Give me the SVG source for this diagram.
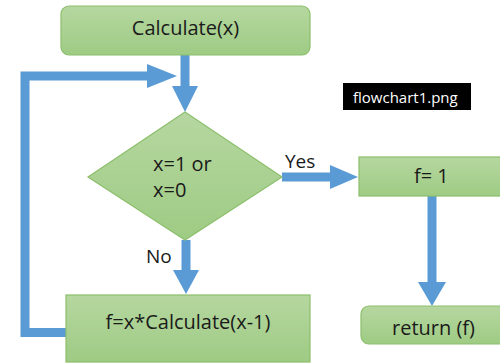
<svg xmlns="http://www.w3.org/2000/svg" width="500" height="364" viewBox="0 0 500 364">
<defs>
<linearGradient id="g" x1="0" y1="0" x2="0" y2="1">
<stop offset="0" stop-color="#b6d7a0"/>
<stop offset="1" stop-color="#9ecb84"/>
</linearGradient>
<style>
.box{fill:url(#g);stroke:#8cbf6c;stroke-width:1.2}
.t{font-family:"Open Sans","Noto Sans",sans-serif;font-size:20px;fill:#1a1a1a}
.lbl{font-family:"Open Sans","Noto Sans",sans-serif;font-size:19px;fill:#1a1a1a}
.arr{fill:#5b9bd5}
.shaft{fill:none;stroke:#5b9bd5;stroke-width:9}
</style>
</defs>
<rect width="500" height="364" fill="#ffffff"/>
<g id="connectors">
<line class="shaft" x1="185" y1="55" x2="185" y2="87"/>
<polygon class="arr" points="172,86 198,86 185,112"/>
<polyline class="shaft" points="66,332.5 25,332.5 25,76 148,76"/>
<polygon class="arr" points="147,64 147,88 177,76"/>
<line class="shaft" x1="282" y1="177" x2="331" y2="177"/>
<polygon class="arr" points="330,165 330,189 358,177"/>
<text class="lbl" x="285" y="168">Yes</text>
<line class="shaft" x1="186" y1="240" x2="186" y2="271"/>
<polygon class="arr" points="173,270 199,270 186,294"/>
<text class="lbl" x="146" y="263">No</text>
<line class="shaft" x1="432" y1="196" x2="432" y2="283"/>
<polygon class="arr" points="418,282 446,282 432,306"/>
</g>
<g id="start">
<rect class="box" x="61" y="6" width="249" height="49" rx="8"/>
<text class="t" x="185.5" y="35" text-anchor="middle">Calculate(x)</text>
</g>
<g id="decision">
<polygon class="box" points="185,112 282,177 185,240 88,177"/>
<text class="t" x="153" y="171">x=1 or</text>
<text class="t" x="153" y="197">x=0</text>
</g>
<g id="recurse">
<rect class="box" x="66" y="295" width="244" height="67"/>
<text class="t" x="188" y="329" text-anchor="middle">f=x*Calculate(x-1)</text>
</g>
<g id="base">
<rect class="box" x="359" y="157" width="160" height="39"/>
<text class="t" x="414" y="183">f= 1</text>
</g>
<g id="ret">
<rect class="box" x="361" y="306" width="160" height="38" rx="8"/>
<text class="t" x="392" y="335">return (f)</text>
</g>
<g id="caption">
<rect x="343" y="83" width="128" height="27" fill="#000000"/>
<text x="353" y="103" font-family="Open Sans, Noto Sans, sans-serif" font-size="15" fill="#ffffff">flowchart1.png</text>
</g>
</svg>
